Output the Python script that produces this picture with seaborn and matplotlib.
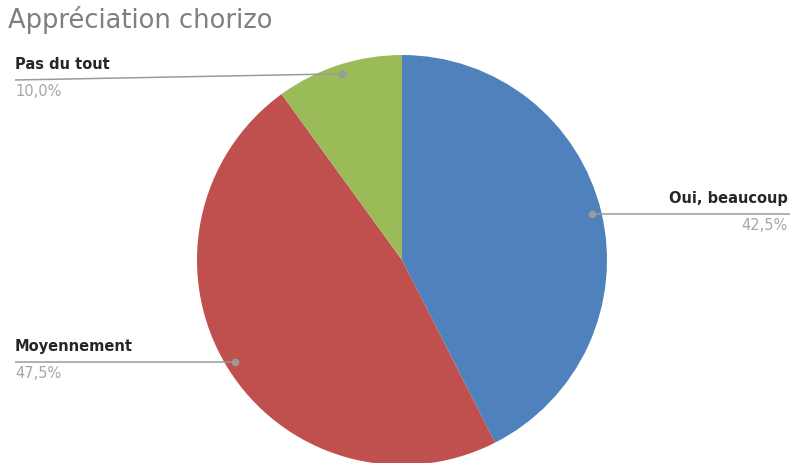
import numpy as np
import matplotlib
matplotlib.use("Agg")
import matplotlib.pyplot as plt
import seaborn as sns

categories = ["Oui, beaucoup", "Moyennement", "Pas du tout"]
shares = [42.5, 47.5, 10.0]
pct_labels = ["42,5%", "47,5%", "10,0%"]
colors = ["#4F81BD", "#C0504D", "#9BBB59"]
title = "Appréciation chorizo"

sns.set_theme(style="white")
plt.rcParams["font.family"] = ["DejaVu Sans"]

W, H = 790, 463
fig = plt.figure(figsize=(W / 100, H / 100), dpi=100)
ax = fig.add_axes([0, 0, 1, 1])

cx, cy, R = 402, H - 260, 205
wedges, _ = ax.pie(shares, colors=colors, startangle=90, counterclock=False,
                   center=(cx, cy), radius=R, frame=True,
                   wedgeprops=dict(linewidth=0))
ax.set_xlim(0, W)
ax.set_ylim(0, H)
ax.set_aspect("auto")
ax.axis("off")

# leader line end points and text side for each slice
ends = [(W, None, "right"), (15, None, "left"), (15, H - 80, "left")]
line_col = "#9a9a9a"
for w, name, pct, (ex, ey, side) in zip(wedges, categories, pct_labels, ends):
    mid = np.deg2rad((w.theta1 + w.theta2) / 2)
    px = cx + 0.955 * R * np.cos(mid)
    py = cy + 0.955 * R * np.sin(mid)
    if ey is None:
        ey = py
    ax.plot([px, ex], [py, ey], color=line_col, lw=1.1, solid_capstyle="butt")
    ax.plot(px, py, "o", color=line_col, ms=4.5)
    tx = ex - 2 if side == "right" else ex
    ax.text(tx, ey + 8, name, ha=side, va="bottom", fontsize=10.5,
            fontweight="semibold", color="#262626")
    ax.text(tx, ey - 4, pct, ha=side, va="top", fontsize=10.5, color="#a6a6a6")

ax.text(8, H - 6, title, ha="left", va="top", fontsize=18.5, color="#7f7f7f")

fig.savefig("out.png", dpi=100)
